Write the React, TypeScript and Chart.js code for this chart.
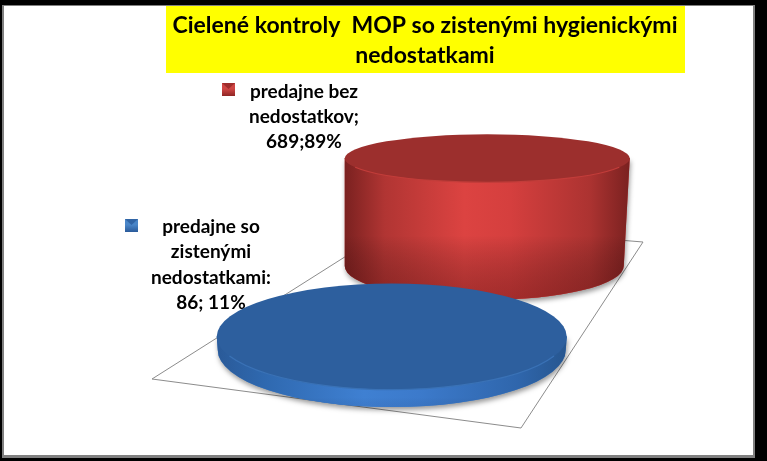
import React, { useEffect, useRef } from 'react';
import { Chart, registerables } from 'chart.js';

Chart.register(...registerables);

// Data
const categories = ['predajne so zistenými nedostatkami', 'predajne bez nedostatkov'];
const values = [86, 689];
const percents = [11, 89];
const titleLines = ['Cielené kontroly  MOP so zistenými hygienickými', 'nedostatkami'];
const blueLabelLines = ['predajne so', 'zistenými', 'nedostatkami:', `${values[0]}; ${percents[0]}%`];
const redLabelLines = ['predajne bez', 'nedostatkov;', `${values[1]};${percents[1]}%`];

// Look of the fake 3D scene, one entry per category
const cylinderStyles = [
  {
    depthShift: 0, rx: 175, ryTop: 53, ryBase: 57, baseDx: 0, baseRxDelta: -1,
    top: '#2d5f9e', rim: '#3a72b6',
    side: ['#2a5a98', '#2f69b0', '#3f80d2', '#3c7acb', '#2f66ac', '#27568f'],
    shade: 'rgba(20,50,100,0.08)',
  },
  {
    depthShift: -84, rx: 142.5, ryTop: 24, ryBase: 34, baseDx: -3, baseRxDelta: -3,
    top: '#9c2f2d', rim: '#c23d3a',
    side: ['#7a2120', '#b13533', '#dc4341', '#d53f3e', '#ac3331', '#7a2120'],
    shade: 'rgba(90,15,15,0.4)',
  },
];

const drawCylinder = (ctx: CanvasRenderingContext2D, bar: any, s: any) => {
  const cx = bar.x;
  const yTop = bar.y + s.depthShift;
  const yBase = bar.base + s.depthShift;
  const bx = cx + s.baseDx;
  const brx = s.rx + s.baseRxDelta;

  const sidePath = () => {
    ctx.beginPath();
    ctx.moveTo(cx - s.rx, yTop);
    ctx.lineTo(bx - brx, yBase);
    ctx.ellipse(bx, yBase, brx, s.ryBase, 0, Math.PI, 0, true);
    ctx.lineTo(cx + s.rx, yTop);
    ctx.closePath();
  };

  // soft shadow on the floor
  ctx.save();
  ctx.shadowColor = 'rgba(0,0,0,0.4)';
  ctx.shadowBlur = 5;
  ctx.shadowOffsetX = 1;
  ctx.shadowOffsetY = 3;
  ctx.fillStyle = s.side[2];
  sidePath();
  ctx.fill();
  ctx.restore();

  // side wall
  const g = ctx.createLinearGradient(cx - s.rx, 0, cx + s.rx, 0);
  const stops = [0, 0.14, 0.42, 0.58, 0.86, 1];
  stops.forEach((p, i) => g.addColorStop(p, s.side[i]));
  ctx.fillStyle = g;
  sidePath();
  ctx.fill();

  // darker toward the floor
  const v = ctx.createLinearGradient(0, yTop + s.ryTop, 0, yBase + s.ryBase);
  v.addColorStop(0, 'rgba(0,0,0,0)');
  v.addColorStop(0.45, 'rgba(0,0,0,0)');
  v.addColorStop(1, s.shade);
  ctx.fillStyle = v;
  sidePath();
  ctx.fill();

  // lid with a thin light rim
  ctx.beginPath();
  ctx.ellipse(cx, yTop, s.rx, s.ryTop, 0, 0, Math.PI * 2);
  ctx.fillStyle = s.top;
  ctx.fill();
  ctx.beginPath();
  ctx.ellipse(cx, yTop, s.rx - 0.5, s.ryTop, 0, Math.PI * 0.12, Math.PI * 0.88);
  ctx.strokeStyle = s.rim;
  ctx.lineWidth = 1.2;
  ctx.stroke();
};

const drawKey = (ctx: CanvasRenderingContext2D, x: number, y: number, dark: string, light: string) => {
  const g = ctx.createLinearGradient(0, y, 0, y + 13);
  g.addColorStop(0, light);
  g.addColorStop(0.45, light);
  g.addColorStop(1, dark);
  ctx.fillStyle = g;
  ctx.fillRect(x, y, 13, 13);
  ctx.fillStyle = dark;
  ctx.beginPath();
  ctx.moveTo(x, y);
  ctx.lineTo(x + 13, y);
  ctx.lineTo(x + 6.5, y + 6);
  ctx.closePath();
  ctx.globalAlpha = 0.75;
  ctx.fill();
  ctx.globalAlpha = 1;
};

const scenePlugin = {
  id: 'scene',
  beforeDraw(chart: any) {
    const { ctx, width, height } = chart;
    ctx.save();
    // slide frame
    ctx.fillStyle = '#000000';
    ctx.fillRect(0, 0, width, height);
    ctx.fillStyle = '#808080';
    ctx.fillRect(2, 5, 753, 453);
    ctx.fillStyle = '#ffffff';
    ctx.fillRect(4, 6, 749, 449);

    // title box
    ctx.fillStyle = '#ffff00';
    ctx.fillRect(166, 6, 519, 67);
    ctx.fillStyle = '#000000';
    ctx.textAlign = 'center';
    ctx.textBaseline = 'alphabetic';
    ctx.font = 'bold 23px Lato';
    titleLines.forEach((line, i) => ctx.fillText(line, 425, 33 + i * 30));

    // floor of the 3D plot
    ctx.beginPath();
    ctx.moveTo(152, 379);
    ctx.lineTo(521, 428);
    ctx.lineTo(643, 242);
    ctx.lineTo(400, 222);
    ctx.closePath();
    ctx.strokeStyle = '#8c8c8c';
    ctx.lineWidth = 1;
    ctx.stroke();

    // data labels sit under the marks
    ctx.fillStyle = '#000000';
    ctx.font = 'bold 19px Lato';
    redLabelLines.forEach((line, i) => ctx.fillText(line, 304, 98 + i * 25));
    blueLabelLines.forEach((line, i) => ctx.fillText(line, 211, 233 + i * 25.3));
    drawKey(ctx, 222, 83, '#8f2624', '#cf4644');
    drawKey(ctx, 125, 219, '#2a5a9a', '#4a86c8');
    ctx.restore();
  },
  afterDatasetsDraw(chart: any) {
    const { ctx } = chart;
    const bars = chart.getDatasetMeta(0).data;
    ctx.save();
    // back one first, so the flat one covers it
    for (let i = bars.length - 1; i >= 0; i--) {
      drawCylinder(ctx, bars[i], cylinderStyles[i]);
    }
    ctx.restore();
  },
};

export default function App() {
  const canvasRef = useRef<HTMLCanvasElement>(null);

  useEffect(() => {
    if (!canvasRef.current) return;
    const chart = new Chart(canvasRef.current, {
      type: 'bar',
      data: {
        labels: categories,
        datasets: [{ data: values, backgroundColor: 'transparent', borderWidth: 0 }],
      },
      options: {
        responsive: false,
        animation: false,
        devicePixelRatio: 1,
        layout: { padding: { left: 344, right: 232, top: 225, bottom: 111 } },
        plugins: { legend: { display: false }, title: { display: false }, tooltip: { enabled: false } },
        scales: {
          x: { display: false },
          y: { display: false, min: 0, max: 800 },
        },
      },
      plugins: [scenePlugin],
    });
    return () => chart.destroy();
  }, []);

  return (
    <div style={{ position: 'absolute', left: 0, top: 0, width: 767, height: 461 }}>
      <canvas ref={canvasRef} width={767} height={461} style={{ display: 'block' }}></canvas>
    </div>
  );
}
